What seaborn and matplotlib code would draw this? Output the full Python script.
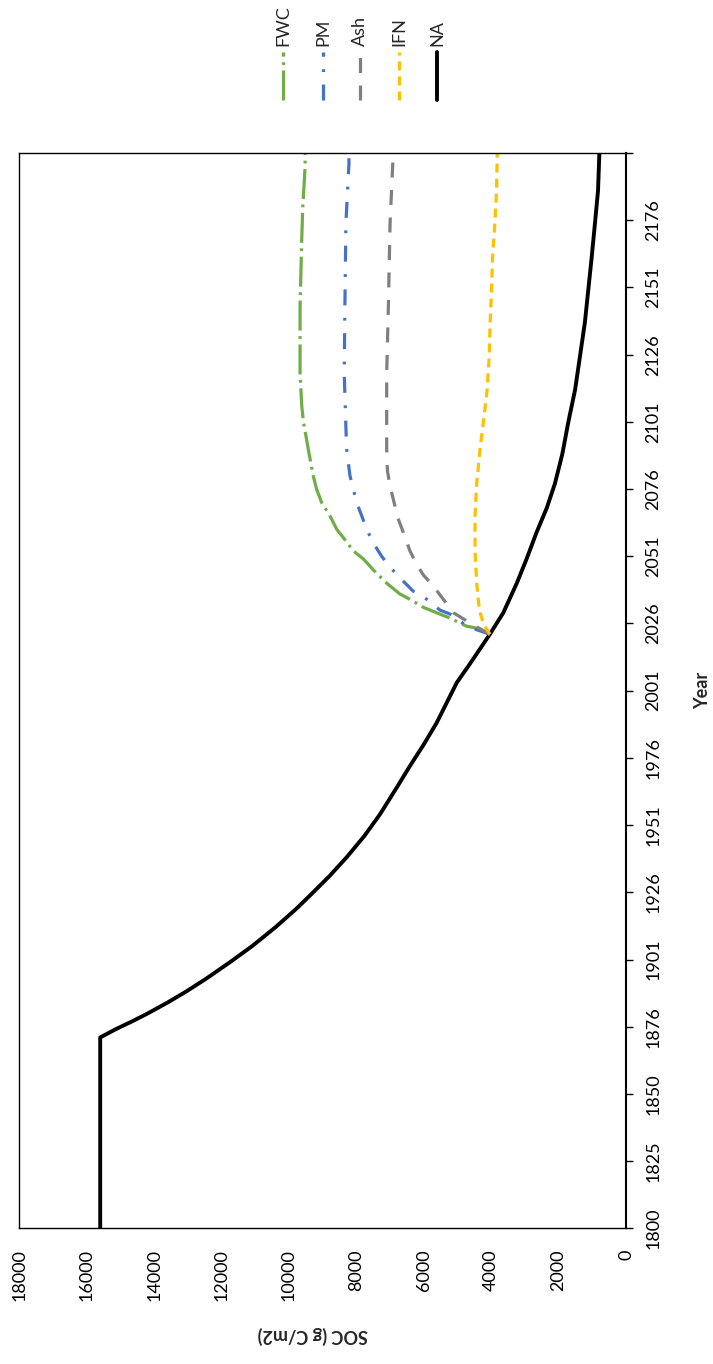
import numpy as np
import pandas as pd
import matplotlib
matplotlib.use("Agg")
import matplotlib.pyplot as plt
from matplotlib.lines import Line2D
import seaborn as sns

# Category positions (0 = 1800, one step per model year) and SOC values
na_pos = [0, 71, 74, 77, 80, 84, 88, 93, 99, 105, 112, 119, 125, 131, 138, 146, 154,
          164, 172, 180, 188, 198, 203, 210, 221, 229, 240, 249, 259, 268, 277, 288,
          300, 312, 324, 337, 349, 361, 374, 386, 400]
na_val = [15600, 15600, 15150, 14650, 14180, 13600, 13060, 12440, 11750, 11090, 10400,
          9770, 9280, 8800, 8290, 7760, 7300, 6800, 6410, 6000, 5620, 5220, 5020, 4630,
          4040, 3640, 3240, 2950, 2650, 2350, 2110, 1890, 1710, 1510, 1370, 1220, 1120,
          1020, 920, 830, 790]

fwc_pos = [221, 223, 224, 227, 229, 231, 234, 236, 240, 245, 249, 252, 257, 260, 265,
           270, 275, 280, 288, 300, 306, 318, 343, 368, 380, 395, 400]
fwc_val = [4040, 4330, 4730, 5220, 5620, 6010, 6410, 6710, 7100, 7500, 7790, 8090, 8390,
           8580, 8780, 9030, 9180, 9280, 9400, 9570, 9620, 9670, 9670, 9620, 9590, 9520, 9520]

pm_pos = [221, 224, 228, 230, 234, 237, 242, 246, 250, 255, 260, 265, 270, 275, 280,
          285, 290, 318, 343, 374, 396, 400]
pm_val = [4040, 4730, 5120, 5520, 5910, 6310, 6710, 7000, 7250, 7500, 7690, 7840, 7990,
          8090, 8190, 8240, 8290, 8360, 8340, 8310, 8220, 8220]

ash_pos = [221, 223, 226, 229, 234, 239, 243, 247, 252, 259, 264, 271, 276, 282, 290,
           318, 343, 374, 396, 400]
ash_val = [4040, 4330, 4730, 5120, 5420, 5720, 6010, 6210, 6410, 6610, 6760, 6900, 7000,
           7080, 7100, 7100, 7050, 7000, 6920, 6920]

ifn_pos = [221, 225, 230, 240, 252, 265, 277, 290, 300, 312, 324, 337, 349, 361, 374, 386, 400]
ifn_val = [4040, 4230, 4350, 4430, 4480, 4480, 4430, 4330, 4230, 4120, 4060, 4030, 3990,
           3960, 3890, 3840, 3820]

year_labels = ['1800', '1825', '1850', '1876', '1901', '1926', '1951', '1976', '2001',
               '2026', '2051', '2076', '2101', '2126', '2151', '2176', '']
soc_ticks = [0, 2000, 4000, 6000, 8000, 10000, 12000, 14000, 16000, 18000]

series_order = ['FWC', 'PM', 'Ash', 'IFN', 'NA']

# long-form table for seaborn
frames = []
for name, pos, val in [('NA', na_pos, na_val), ('FWC', fwc_pos, fwc_val),
                       ('PM', pm_pos, pm_val), ('Ash', ash_pos, ash_val),
                       ('IFN', ifn_pos, ifn_val)]:
    frames.append(pd.DataFrame({'series': name, 'pos': pos, 'SOC': val}))
df = pd.concat(frames, ignore_index=True)

colors = {'FWC': '#70AD47', 'PM': '#4472C4', 'Ash': '#7F7F7F', 'IFN': '#FFC000', 'NA': '#000000'}
dashes = {'FWC': (21.6, 4, 2, 4), 'PM': (11.5, 9, 2, 9), 'Ash': (10.8, 9),
          'IFN': (6.5, 4.3), 'NA': ''}
widths = {'FWC': 2.3, 'PM': 2.3, 'Ash': 2.3, 'IFN': 2.3, 'NA': 2.8}

sns.set_theme(style='white')
plt.rcParams['font.family'] = ['Lato', 'DejaVu Sans']
plt.rcParams['lines.scale_dashes'] = False

fig = plt.figure(figsize=(7.13, 13.64), dpi=100)
ax = fig.add_axes([19.3 / 713, 1 - 1228.3 / 1364, 606.7 / 713, 1075.2 / 1364])

sns.lineplot(data=df, x='SOC', y='pos', hue='series', style='series', size='series',
             palette=colors, dashes=dashes, sizes=widths, orient='y', sort=False,
             estimator=None, legend=False, ax=ax)
for ln in ax.lines:
    ln.set_solid_joinstyle('round')
    ln.set_dash_joinstyle('round')

# rotated layout: SOC runs right-to-left, years bottom-to-top
ax.set_xlim(18000, 0)
ax.set_ylim(0, 400)
ax.set_xticks(soc_ticks)
ax.set_xticklabels([str(t) for t in soc_ticks])
ax.set_yticks(np.arange(0, 401, 25))
ax.set_yticklabels(year_labels)

ax.yaxis.tick_right()
ax.tick_params(axis='x', length=0, labelrotation=90, pad=15, labelsize=13, colors='black')
ax.tick_params(axis='y', length=5, width=1, direction='out', labelrotation=90,
               pad=9, labelsize=13, colors='black', right=True, left=False)
for lbl in ax.get_yticklabels():
    lbl.set_va('center')

for s in ax.spines.values():
    s.set_color('black')
    s.set_linewidth(1.0)
ax.spines['right'].set_linewidth(1.5)

ax.set_xlabel('SOC (g C/m2)', fontsize=13, fontweight='bold', rotation=180, va='center')
ax.xaxis.set_label_coords(0.483, -0.0995)
ax.yaxis.set_label_position('right')
ax.set_ylabel('Year', fontsize=13, fontweight='bold', rotation=90, va='center')
ax.yaxis.set_label_coords((703 - 19.3) / 606.7, 0.5)

# legend, drawn vertically above the plot
leg_x = [283, 323, 360, 399, 437]
for name, lx in zip(series_order, leg_x):
    fx = lx / 713
    ln = Line2D([fx, fx], [1 - 100 / 1364, 1 - 52 / 1364], transform=fig.transFigure,
                color=colors[name], lw=widths[name])
    if dashes[name]:
        ln.set_dashes(dashes[name])
    fig.add_artist(ln)
    fig.text(fx, 1 - 46 / 1364, name, rotation=90, ha='center', va='bottom', fontsize=13)

fig.savefig('out.png', dpi=100)
